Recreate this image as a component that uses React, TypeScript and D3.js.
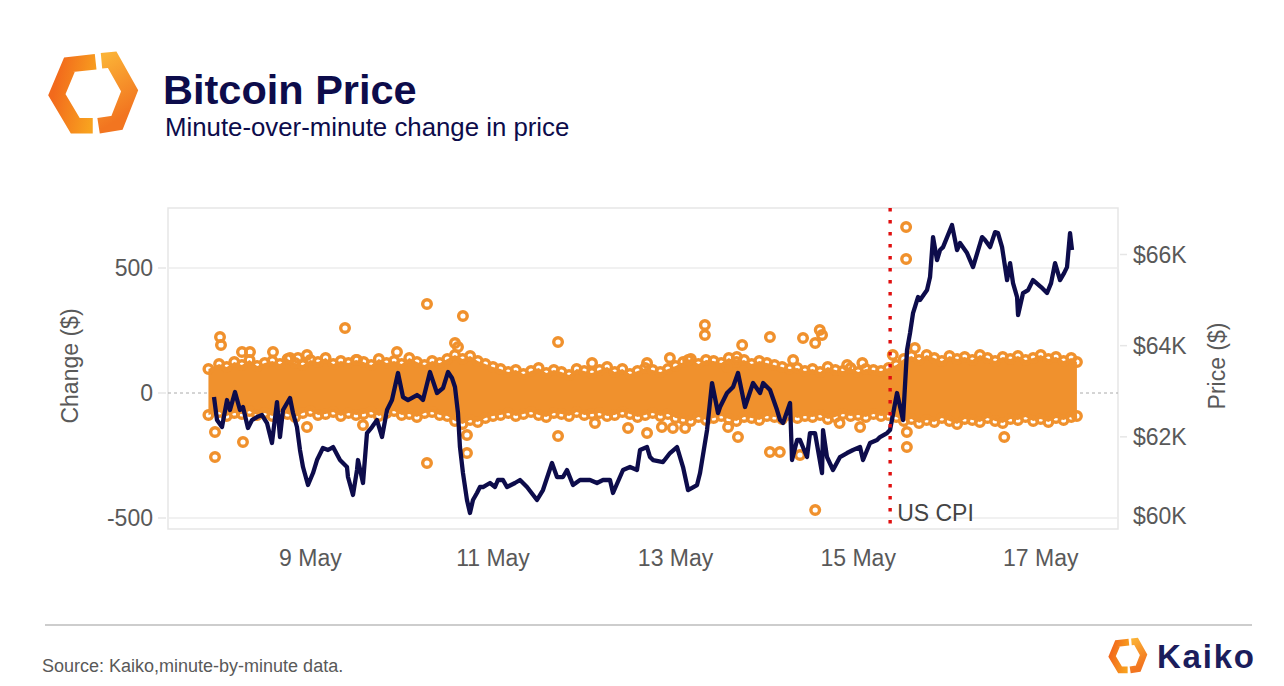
import React from "react";
import * as d3 from "d3";

// ---------- DATA (hours since 2024-05-08 00:00 UTC) ----------
// BTC price: [hour, USD]
const priceSeries: [number, number][] = [
  [-1.34, 62873], [-0.55, 62368], [0.76, 62215], [2.08, 62807], [2.87, 62588], [4.18, 62982],
  [5.49, 62588], [6.28, 62654], [7.59, 62193], [8.65, 62368], [9.96, 62434], [11.28, 62478],
  [12.59, 62303], [13.9, 61864], [15.22, 62763], [16.01, 61996], [16.8, 62588], [18.64, 62851],
  [19.43, 62522], [20.47, 62215], [21.27, 61711], [22.06, 61338], [23.37, 60943], [24.69, 61206],
  [25.74, 61491], [27.29, 61754], [28.63, 61711], [29.96, 61776], [31.78, 61491], [33.62, 61338],
  [33.88, 61118], [35.2, 60724], [36.25, 61272], [36.51, 61491], [37.83, 60987], [38.88, 62083],
  [40.19, 62215], [41.51, 62368], [42.82, 61996], [44.14, 62588], [45.45, 62807], [47.03, 63399],
  [48.34, 62873], [49.66, 62807], [52.02, 62917], [52.81, 62873], [53.6, 62807], [55.44, 63421],
  [57.28, 62961], [58.86, 63070], [60.17, 63421], [61.22, 63290], [62.01, 63092], [62.8, 62522],
  [63.32, 61776], [64.11, 61206], [65.16, 60614], [65.95, 60329], [66.74, 60614], [67.79, 60768],
  [68.58, 60899], [69.37, 60899], [71.21, 60987], [72.53, 60899], [73.31, 61053], [74.63, 61053],
  [75.68, 60899], [77.78, 60987], [79.1, 61053], [80.94, 60899], [83.57, 60614], [85.14, 60833],
  [87.51, 61425], [88.83, 61118], [90.4, 61118], [91.46, 61272], [93.03, 60943], [94.87, 61053],
  [97.5, 61053], [99.34, 60987], [100.92, 61053], [102.76, 61053], [103.55, 60768], [106.18, 61272],
  [108.02, 61338], [109.86, 61272], [110.65, 61711], [112.49, 61776], [113.28, 61557], [114.07, 61491],
  [116.7, 61447], [118.54, 61645], [120.38, 61776], [121.96, 61338], [123.27, 60833], [125.64, 60943],
  [126.43, 61206], [128.27, 62149], [129.58, 63180], [131.16, 62522], [131.69, 62654], [133.52, 62961],
  [135.11, 63092], [136.41, 63399], [138.25, 62654], [140.36, 63180], [142.2, 62961], [143.0, 63180],
  [144.83, 63026], [146.67, 62588], [147.47, 62368], [148.25, 62303], [150.09, 62741], [150.61, 61491],
  [151.94, 61930], [152.71, 61930], [154.55, 61557], [155.33, 62083], [156.66, 62083], [158.5, 61206],
  [158.76, 62149], [159.8, 61557], [161.38, 61272], [163.22, 61557], [165.07, 61645], [166.64, 61711],
  [168.49, 61776], [169.27, 61491], [171.11, 61864], [172.96, 61930], [173.74, 61996], [175.59, 62083],
  [176.37, 62149], [178.21, 62961], [179.79, 62368], [180.84, 63903], [181.63, 64276], [182.42, 64715],
  [183.73, 65066], [184.26, 65000], [186.1, 65219], [186.89, 65504], [187.68, 66382], [188.73, 65877],
  [189.52, 66097], [190.31, 66162], [192.67, 66645], [193.99, 66097], [194.77, 66250], [196.62, 66031],
  [197.4, 65877], [198.19, 65724], [200.56, 66382], [201.34, 66316], [202.67, 66162], [203.98, 66491],
  [204.75, 66469], [205.82, 66162], [207.14, 65439], [207.93, 65811], [208.71, 65373], [209.77, 65066],
  [210.03, 64671], [211.34, 65154], [212.66, 65219], [213.97, 65439], [216.08, 65285], [217.65, 65154],
  [218.71, 65373], [219.75, 65811], [221.06, 65439], [222.13, 65592], [222.9, 65724], [223.69, 66469],
  [224.21, 66097],
];

// dense band of minute changes: per 2-hour bucket [hour, highest change, lowest change]
const bandSeries: [number, number, number][] = [
  [-2.8, 96, -88], [0, 116, -76], [2, 104, -92], [4, 124, -80], [6, 112, -84], [8, 132, -72],
  [10, 108, -88], [12, 120, -80], [14, 128, -92], [16, 116, -76], [18, 136, -84], [20, 120, -96],
  [22, 112, -80], [24, 132, -72], [26, 124, -88], [28, 140, -84], [30, 116, -76], [32, 128, -92],
  [34, 120, -80], [36, 132, -88], [38, 124, -84], [40, 112, -76], [42, 136, -92], [44, 120, -80],
  [46, 128, -72], [48, 116, -88], [50, 140, -84], [52, 124, -96], [54, 112, -80], [56, 128, -76],
  [58, 120, -88], [60, 136, -92], [62, 152, -112], [64, 136, -124], [66, 148, -108], [68, 128, -116],
  [70, 116, -100], [72, 104, -92], [74, 96, -88], [76, 84, -80], [78, 92, -92], [80, 76, -84],
  [82, 88, -76], [84, 100, -88], [86, 80, -96], [88, 92, -80], [90, 84, -84], [92, 72, -92],
  [94, 96, -76], [96, 88, -88], [98, 80, -84], [100, 92, -80], [102, 104, -92], [104, 84, -88],
  [106, 96, -76], [108, 76, -84], [110, 88, -96], [112, 100, -88], [114, 92, -80], [116, 84, -92],
  [118, 96, -84], [120, 108, -100], [122, 124, -104], [124, 136, -112], [126, 116, -96], [128, 132, -108],
  [130, 128, -100], [132, 120, -92], [134, 140, -104], [136, 124, -112], [138, 132, -96], [140, 116, -100],
  [142, 128, -108], [144, 120, -92], [146, 112, -96], [148, 104, -104], [150, 96, -88], [152, 100, -100],
  [154, 88, -92], [156, 96, -96], [158, 84, -88], [160, 104, -104], [162, 92, -96], [164, 88, -84],
  [166, 100, -92], [168, 84, -88], [170, 96, -96], [172, 92, -84], [174, 88, -92], [176, 100, -88],
  [178, 112, -96], [180, 136, -112], [182, 148, -104], [184, 132, -120], [186, 152, -108], [188, 140, -116],
  [190, 128, -100], [192, 148, -112], [194, 136, -124], [196, 144, -104], [198, 132, -108], [200, 152, -116],
  [202, 140, -100], [204, 128, -112], [206, 144, -120], [208, 136, -104], [210, 148, -108], [212, 132, -96],
  [214, 140, -112], [216, 152, -104], [218, 136, -116], [220, 144, -100], [222, 128, -108], [224, 140, -96],
  [225.5, 124, -92],
];

// individual outlying minute changes
const outlierHours = [
  -1.08, -1.08, 0.24, 0.5, 6.02, 6.28, 8.12, 14.17, 18.64, 20.74,
  23.11, 23.11, 33.1, 36.25, 37.83, 46.76, 54.65, 54.65, 62.01, 62.8,
  64.1, 65.16, 65.16, 89.1, 89.1, 98.04, 98.8, 107.5, 112.5, 112.5,
  116.4, 118.5, 119.3, 122.5, 123.3, 127.7, 127.7, 133.5, 133.8, 136.1,
  136.4, 137.5, 144.8, 144.8, 147.4, 150.9, 152.7, 153.5, 156.7, 156.7,
  157.9, 158.5, 163.1, 165.1, 168.5, 169.1, 177.1, 180.6, 180.6, 180.8,
  180.8, 182.9, 206.4,
];
const outlierChange = [
  -256, -156, 224, 192, 164, -196, 164, 164, 140, 140,
  152, -136, 260, 132, -128, 164, 356, -280, 200, 184,
  308, -168, -240, 204, -172, 120, -120, -140, 120, -160,
  -136, 140, -140, -140, 132, 272, 232, 104, -136, 144,
  -176, 192, 224, -236, -236, 132, -248, 220, 200, -468,
  252, 232, -120, 112, -136, 120, 152, 664, 536, -216,
  -156, 180, -176,
];

const changeTicks = [-500, 0, 500];
const priceTicks = [60000, 62000, 64000, 66000];
const dateTicks = ["2024-05-09", "2024-05-11", "2024-05-13", "2024-05-15", "2024-05-17"];
const cpiHour = 176.4;
const cpiLabel = "US CPI";

// ---------- LAYOUT ----------
const W = 1284, H = 686;
const P = { left: 168, right: 1118, top: 208, bottom: 529 };
const BASE = Date.UTC(2024, 4, 8);
const t = (h: number) => new Date(BASE + h * 3600e3);

const ORANGE = "#f0912d";
const NAVY = "#0d0c4b";
const GREY = "#595959";
const FONT = "'Liberation Sans', Arial, Helvetica, sans-serif";

function Logo({ x, y, s, id }: { x: number; y: number; s: number; id: string }) {
  const left = "M45,10 L18,13 L5,44 L24,76 L42,76";
  const right = "M51,9 L62,8 L80,40 L67,73 L48,76";
  return (
    <g transform={`translate(${x},${y}) scale(${s})`}>
      <defs>
        <linearGradient id={`${id}a`} x1="0" y1="0.2" x2="1" y2="0.5">
          <stop offset="0" stopColor="#f26a1c" />
          <stop offset="1" stopColor="#f8a21f" />
        </linearGradient>
        <linearGradient id={`${id}b`} x1="0" y1="0" x2="0.3" y2="1">
          <stop offset="0" stopColor="#fbb236" />
          <stop offset="1" stopColor="#f27520" />
        </linearGradient>
      </defs>
      <path d={left} fill="none" stroke={`url(#${id}a)`} strokeWidth={16} strokeLinejoin="miter" />
      <path d={right} fill="none" stroke={`url(#${id}b)`} strokeWidth={16} strokeLinejoin="miter" />
    </g>
  );
}

export default function App() {
  const x = d3.scaleUtc().domain([t(-13.43), t(236.3)]).range([P.left, P.right]);
  const yL = d3.scaleLinear().domain([-544, 740]).range([P.bottom, P.top]);
  const yR = d3.scaleLinear().domain([59978, 67020]).range([P.bottom, P.top]);

  const area = d3
    .area<[number, number, number]>()
    .x((d) => x(t(d[0])))
    .y0((d) => yL(d[2]))
    .y1((d) => yL(d[1]))
    .curve(d3.curveLinear);

  const line = d3
    .line<[number, number]>()
    .x((d) => x(t(d[0])))
    .y((d) => yR(d[1]));

  const parse = d3.utcParse("%Y-%m-%d");
  const fmt = d3.utcFormat("%-d %b");
  const cpiX = x(t(cpiHour));

  const ring = (cx: number, cy: number, k: string) => (
    <circle key={k} cx={cx} cy={cy} r={4.3} fill="none" stroke={ORANGE} strokeWidth={3.4} />
  );

  return (
    <svg width={W} height={H} style={{ position: "absolute", left: 0, top: 0, background: "#fff" }} fontFamily={FONT}>
      <rect width={W} height={H} fill="#fff" />
      <Logo x={52} y={52} s={0.97} id="lg1" />
      <text x={163} y={104} fontSize={41.5} fontWeight="bold" fill={NAVY}>Bitcoin Price</text>
      <text x={165} y={136} fontSize={25.8} fill={NAVY}>Minute-over-minute change in price</text>

      {/* plot frame and grid */}
      <rect x={P.left} y={P.top} width={P.right - P.left} height={P.bottom - P.top} fill="none" stroke="#e6e6e6" strokeWidth={1.5} />
      {changeTicks.filter((v) => v !== 0).map((v) => (
        <line key={v} x1={P.left} x2={P.right} y1={yL(v)} y2={yL(v)} stroke="#ececec" strokeWidth={1.5} />
      ))}
      <line x1={P.left} x2={P.right} y1={yL(0)} y2={yL(0)} stroke="#aaa" strokeWidth={1} strokeDasharray="3 3" />

      {/* left axis */}
      {changeTicks.map((v) => (
        <g key={v}>
          <line x1={P.left - 10} x2={P.left - 2} y1={yL(v)} y2={yL(v)} stroke="#e6e6e6" strokeWidth={1.5} />
          <text x={153} y={yL(v)} dy="0.36em" textAnchor="end" fontSize={23} fill={GREY}>{v}</text>
        </g>
      ))}
      <text transform={`translate(78,366) rotate(-90)`} textAnchor="middle" fontSize={23} fill={GREY}>Change ($)</text>

      {/* right axis */}
      {priceTicks.map((v) => {
        const yy = yR(v);
        return (
          <g key={v}>
            {yy < P.bottom - 5 && <line x1={P.right + 2} x2={P.right + 9} y1={yy} y2={yy} stroke="#e6e6e6" strokeWidth={1.5} />}
            <text x={1133} y={Math.min(yy, 516)} dy="0.36em" fontSize={23} fill={GREY}>{`$${v / 1000}K`}</text>
          </g>
        );
      })}
      <text transform={`translate(1225,366) rotate(-90)`} textAnchor="middle" fontSize={23} fill={GREY}>Price ($)</text>

      {/* x axis */}
      {dateTicks.map((s) => {
        const d = parse(s)!;
        return (
          <text key={s} x={x(d)} y={566} textAnchor="middle" fontSize={23} fill={GREY}>{fmt(d)}</text>
        );
      })}

      {/* minute changes */}
      <path d={area(bandSeries) || ""} fill={ORANGE} />
      {bandSeries.map((d, i) => ring(x(t(d[0])), yL(d[1]), `u${i}`))}
      {bandSeries.map((d, i) => ring(x(t(d[0])), yL(d[2]), `l${i}`))}
      {outlierHours.map((h, i) => ring(x(t(h)), yL(outlierChange[i]), `o${i}`))}

      {/* price */}
      <path d={line(priceSeries) || ""} fill="none" stroke={NAVY} strokeWidth={4.3} strokeLinejoin="round" />

      {/* CPI marker */}
      <line x1={cpiX} x2={cpiX} y1={P.top} y2={P.bottom - 4} stroke="#e01010" strokeWidth={3.4} strokeDasharray="3.4 8.6" />
      <text x={cpiX + 7} y={521} fontSize={23} fill="#444">{cpiLabel}</text>

      {/* footer */}
      <line x1={45} x2={1252} y1={625} y2={625} stroke="#bdbdbd" strokeWidth={1.5} />
      <text x={42} y={672} fontSize={18} fill={GREY}>Source: Kaiko,minute-by-minute data.</text>
      <Logo x={1110} y={638} s={0.42} id="lg2" />
      <text x={1157} y={668} fontSize={33} fontWeight="bold" fill="#1b1d5c" textLength={97}>Kaiko</text>
    </svg>
  );
}
